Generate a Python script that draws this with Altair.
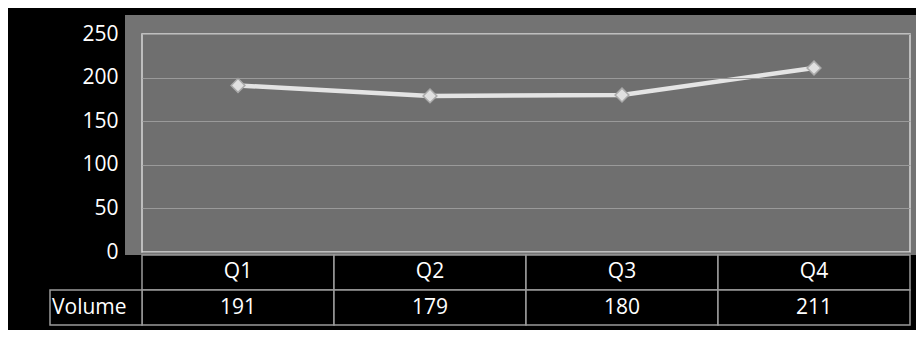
import altair as alt
import pandas as pd

quarters = ["Q1", "Q2", "Q3", "Q4"]
volume = [191, 179, 180, 211]
row_label = "Volume"
y_ticks = [0, 50, 100, 150, 200, 250]

df = pd.DataFrame({"quarter": quarters, "volume": volume})
one = pd.DataFrame({"k": [0]})

W, H = 768, 218
FONT = "Open Sans"
FS = 21

xs = alt.Scale(domain=quarters, type="band", paddingInner=0, paddingOuter=0)
ys = alt.Scale(domain=[0, 250], nice=False)

outer = alt.Chart(one).mark_rect(fill="#737373").encode(
    x=alt.value(-17), x2=alt.value(W + 6), y=alt.value(-19), y2=alt.value(H + 3)
)

inner = alt.Chart(one).mark_rect(fill="#6a6a6a", fillOpacity=0.4, stroke="#d8d8d8", strokeWidth=1.5).encode(
    x=alt.value(0), x2=alt.value(W), y=alt.value(0), y2=alt.value(H)
)

axis_layer = alt.Chart(df).mark_point(opacity=0).encode(
    x=alt.X("quarter:N", scale=xs, axis=None),
    y=alt.Y("volume:Q", scale=ys, title=None,
            axis=alt.Axis(values=y_ticks, grid=True, gridColor="#9a9a9a", gridWidth=1,
                          domain=False, ticks=False, labelColor="white", labelFontSize=FS,
                          labelFont=FONT, labelPadding=24, zindex=1)),
)

line = alt.Chart(df).mark_line(color="#e4e4e4", strokeWidth=4.5).encode(
    x=alt.X("quarter:N", scale=xs, axis=None),
    y=alt.Y("volume:Q", scale=ys),
)

pts = alt.Chart(df).mark_point(shape="diamond", filled=True, size=190, fill="#e0e0e0",
                               stroke="#aaaaaa", strokeWidth=1.5, opacity=1).encode(
    x=alt.X("quarter:N", scale=xs, axis=None),
    y=alt.Y("volume:Q", scale=ys),
)

cell1 = alt.Chart(df).mark_rect(fill="black", stroke="#9a9a9a", strokeWidth=1.5).encode(
    x=alt.X("quarter:N", scale=xs, axis=None), y=alt.value(H + 3), y2=alt.value(H + 38)
)
cell2 = alt.Chart(df).mark_rect(fill="black", stroke="#9a9a9a", strokeWidth=1.5).encode(
    x=alt.X("quarter:N", scale=xs, axis=None), y=alt.value(H + 38), y2=alt.value(H + 73)
)
cell_lab = alt.Chart(one).mark_rect(fill="black", stroke="#9a9a9a", strokeWidth=1.5).encode(
    x=alt.value(-92), x2=alt.value(0), y=alt.value(H + 38), y2=alt.value(H + 73)
)

qtext = alt.Chart(df).mark_text(color="white", fontSize=FS, font=FONT, baseline="middle").encode(
    x=alt.X("quarter:N", scale=xs, axis=None), y=alt.value(H + 20), text="quarter:N"
)
vtext = alt.Chart(df).mark_text(color="white", fontSize=FS, font=FONT, baseline="middle").encode(
    x=alt.X("quarter:N", scale=xs, axis=None), y=alt.value(H + 56), text="volume:Q"
)
ltext = alt.Chart(pd.DataFrame({"t": [row_label]})).mark_text(
    color="white", fontSize=FS, font=FONT, baseline="middle", align="left").encode(
    x=alt.value(-90), y=alt.value(H + 56), text="t:N"
)

chart = alt.layer(outer, inner, axis_layer, line, pts, cell1, cell2, cell_lab, qtext, vtext, ltext).properties(
    width=W, height=H,
    autosize=alt.AutoSizeParams(type="none"),
    padding={"left": 134, "top": 26, "right": 6, "bottom": 78},
    background="black",
).configure_view(stroke=None, fill=None)

chart.save("out.html", embed_options={"renderer": "svg", "actions": False})
